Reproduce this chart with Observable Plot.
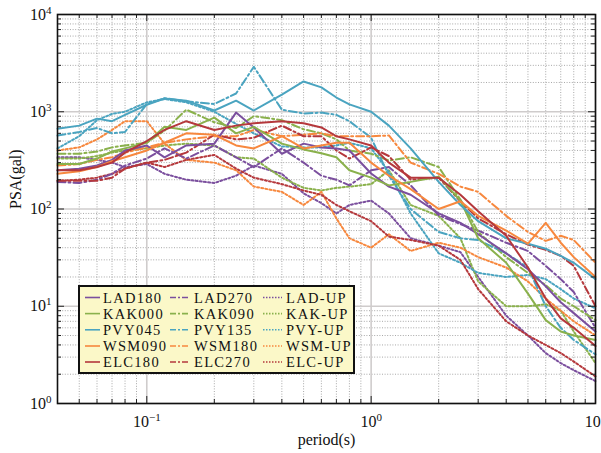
<!DOCTYPE html>
<html><head><meta charset="utf-8">
<script src="https://cdn.jsdelivr.net/npm/d3@7"></script>
<script src="https://cdn.jsdelivr.net/npm/@observablehq/plot@0.6"></script>
<style>
body{margin:0;background:#fff;}
#wrap{position:relative;width:601px;height:453px;font-family:"Liberation Serif","Times New Roman",serif;}
#legend{position:absolute;left:78px;top:285px;width:277px;height:89px;box-sizing:border-box;border:2px solid #111;background:#fbf8c8;}
#legend svg{position:absolute;left:0;top:0;}
</style></head><body><div id="wrap"><div id="legend"></div></div>
<script>
// periods (s)
const periods = [0.04,0.05,0.06,0.07,0.08,0.1,0.12,0.15,0.2,0.25,0.3,0.4,0.5,0.6,0.7,0.8,1,1.2,1.5,2,2.5,3,4,5,6,7,8,10];
// PSA (gal) per record
const lad180 = [250,260,280,320,400,450,340,450,470,980,690,370,470,430,420,400,232,170,140,90,72,55,35,24,16,11,8.5,5.5];
const lad270 = [190,185,200,230,280,330,420,330,450,340,270,420,300,220,200,175,250,270,175,86,70,60,45,37,26,19,14,6];
const ladUP  = [340,340,320,300,270,290,230,200,185,220,280,230,145,115,90,110,122,90,50,42,36,20,8,5,3.3,2.6,2.2,1.7];
const kak000 = [290,290,330,390,420,480,700,650,870,600,700,470,410,375,340,250,210,175,190,215,122,50,28,13.5,7.2,5.5,5,4.5];
const kak090 = [370,370,390,430,450,480,640,1050,780,680,900,820,660,600,520,400,370,315,340,270,125,58,32,22,16.5,12,10,7.2];
const kakUP  = [330,330,350,380,400,420,450,470,450,340,330,210,165,155,165,170,180,250,110,85,50,18,10,10,10.5,9,5.5,2.6];
const pvy045 = [670,720,850,800,930,1180,1370,1300,1030,1300,1030,1500,2050,1780,1400,1190,1000,720,420,190,110,75,50,44,39,33,28,19];
const pvy135 = [570,620,680,600,620,1200,1380,1280,1200,1540,2900,1050,960,980,930,800,540,220,100,58,50,48,35,25,10,6,4.5,3.2];
const pvyUP  = [420,560,820,950,1000,1250,1350,1250,1000,750,600,440,430,430,450,480,420,240,90,35,28,22,20,21,19,15,12,9.5];
const wsm090 = [230,245,270,310,340,400,480,600,580,450,420,560,420,450,480,480,300,220,160,100,120,85,60,44,72,45,32,20];
const wsm180 = [280,290,320,340,380,430,480,520,560,560,650,560,580,600,560,560,560,570,300,230,170,150,85,58,47,53,48,28];
const wsmUP  = [400,430,520,650,800,800,470,320,300,250,170,150,110,150,80,50,40,55,37,45,40,32,25,18,12,9,7,5];
const elc180 = [250,250,270,300,380,500,650,800,650,720,760,800,760,690,560,520,450,300,210,210,140,95,53,25,12,7.5,6,3.9];
const elc270 = [195,195,195,210,260,300,320,380,580,520,540,720,560,560,400,330,430,350,200,210,120,80,55,43,38,33,26,10];
const elcUP  = [195,200,210,230,260,300,270,320,360,260,210,180,155,140,110,95,75,52,48,42,30,15,7,5,4,3.3,2.7,1.9];

const seriesNames = ["LAD180","LAD270","LAD-UP","KAK000","KAK090","KAK-UP","PVY045","PVY135","PVY-UP","WSM090","WSM180","WSM-UP","ELC180","ELC270","ELC-UP"];
const seriesValues = [lad180,lad270,ladUP,kak000,kak090,kakUP,pvy045,pvy135,pvyUP,wsm090,wsm180,wsmUP,elc180,elc270,elcUP];
const stationColors = ["#7b4f9e","#8ab14c","#4aa4c0","#f7883e","#b5383c"];
const styles = [null, "8,3,2,3", "2,2.2"];

// axis ticks
const majorX = [0.1, 1, 10];
const minorX = [0.04,0.05,0.06,0.07,0.08,0.09,0.2,0.3,0.4,0.5,0.6,0.7,0.8,0.9,2,3,4,5,6,7,8,9];
const majorY = [1, 10, 100, 1000, 10000];
const minorY = [1,10,100,1000].flatMap(d => [2,3,4,5,6,7,8,9].map(k => k*d));

const W = 601, H = 453, mL = 57, mR = 6, mT = 14, mB = 50;
const fw = W - mL - mR, fh = H - mT - mB;

const lineMarks = seriesNames.map((name, s) => {
  const rows = periods.map((p, i) => ({period: p, psa: seriesValues[s][i]}));
  return Plot.line(rows, {x: "period", y: "psa", stroke: stationColors[Math.floor(s/3)],
    strokeWidth: 2, strokeDasharray: styles[s % 3], strokeLinejoin: "round"});
});
// draw dotted first, then dash-dot, then solid (solid on top)
const order = [2,5,8,11,14,1,4,7,10,13,0,3,6,9,12];

const fmt = d => "10^" + Math.round(Math.log10(d));

const chart = Plot.plot({
  width: W, height: H,
  marginLeft: mL, marginRight: mR, marginTop: mT, marginBottom: mB,
  style: {fontFamily: "'Liberation Serif','Times New Roman',serif", fontSize: "16px", background: "transparent", color: "#111"},
  x: {type: "log", domain: [0.04, 10]},
  y: {type: "log", domain: [1, 10000]},
  marks: [
    Plot.ruleX(minorX, {stroke: "#a8a8a8", strokeWidth: 1, strokeDasharray: "1,1.6"}),
    Plot.ruleY(minorY, {stroke: "#a8a8a8", strokeWidth: 1, strokeDasharray: "1,1.6"}),
    Plot.ruleX(majorX, {stroke: "#cfcccc", strokeWidth: 1.6}),
    Plot.ruleY(majorY, {stroke: "#cfcccc", strokeWidth: 1.6}),
    ...order.map(i => lineMarks[i]),
    // inward ticks
    Plot.ruleX(majorX, {stroke: "#222", strokeWidth: 1, insetTop: fh - 7}),
    Plot.ruleX(majorX, {stroke: "#222", strokeWidth: 1, insetBottom: fh - 7}),
    Plot.ruleX(minorX, {stroke: "#222", strokeWidth: 1, insetTop: fh - 4}),
    Plot.ruleX(minorX, {stroke: "#222", strokeWidth: 1, insetBottom: fh - 4}),
    Plot.ruleY(majorY, {stroke: "#222", strokeWidth: 1, insetRight: fw - 7}),
    Plot.ruleY(majorY, {stroke: "#222", strokeWidth: 1, insetLeft: fw - 7}),
    Plot.ruleY(minorY, {stroke: "#222", strokeWidth: 1, insetRight: fw - 4}),
    Plot.ruleY(minorY, {stroke: "#222", strokeWidth: 1, insetLeft: fw - 4}),
    Plot.frame({stroke: "#111", strokeWidth: 1.6}),
    Plot.axisX({ticks: majorX, tickSize: 0, tickPadding: 12, tickFormat: fmt, label: null, fontSize: 16}),
    Plot.axisY({ticks: majorY, tickSize: 0, tickPadding: 6, tickFormat: fmt, label: null, fontSize: 16}),
    Plot.text(["PSA(gal)"], {frameAnchor: "left", dx: -42, rotate: -90, fontSize: 16, text: d => d}),
    Plot.text(["period(s)"], {frameAnchor: "bottom", dy: 36, fontSize: 16, lineAnchor: "middle", text: d => d})
  ]
});

// superscript exponents
chart.querySelectorAll("text").forEach(t => {
  const m = /^10\^(-?\d+)$/.exec(t.textContent.trim());
  if (!m) return;
  t.textContent = "";
  const base = document.createElementNS("http://www.w3.org/2000/svg", "tspan");
  base.textContent = "10";
  const sup = document.createElementNS("http://www.w3.org/2000/svg", "tspan");
  sup.textContent = m[1].replace("-", "\u2212");
  sup.setAttribute("dy", "-0.55em");
  sup.setAttribute("font-size", "11px");
  t.appendChild(base); t.appendChild(sup);
});

document.getElementById("wrap").prepend(chart);

// legend
const lg = d3.select("#legend").append("svg").attr("width", 273).attr("height", 85);
const colX = [[5, 20, 23], [90, 110, 114], [183, 202, 206]];
const rowY = [10.5, 26.6, 42.8, 59, 75];
seriesNames.forEach((name, s) => {
  const r = Math.floor(s / 3), c = s % 3;
  const [x1, x2, tx] = colX[c];
  lg.append("line").attr("x1", x1).attr("x2", x2).attr("y1", rowY[r]).attr("y2", rowY[r])
    .attr("stroke", stationColors[r]).attr("stroke-width", 1.6)
    .attr("stroke-dasharray", c === 0 ? null : c === 1 ? "6,2,2,2" : "1.5,1.5");
  lg.append("text").attr("x", tx).attr("y", rowY[r]).attr("dominant-baseline", "central")
    .attr("font-family", "'Liberation Serif','Times New Roman',serif").attr("font-size", 14.5)
    .attr("letter-spacing", "1.3px").attr("fill", "#111").text(name);
});
</script></body></html>
